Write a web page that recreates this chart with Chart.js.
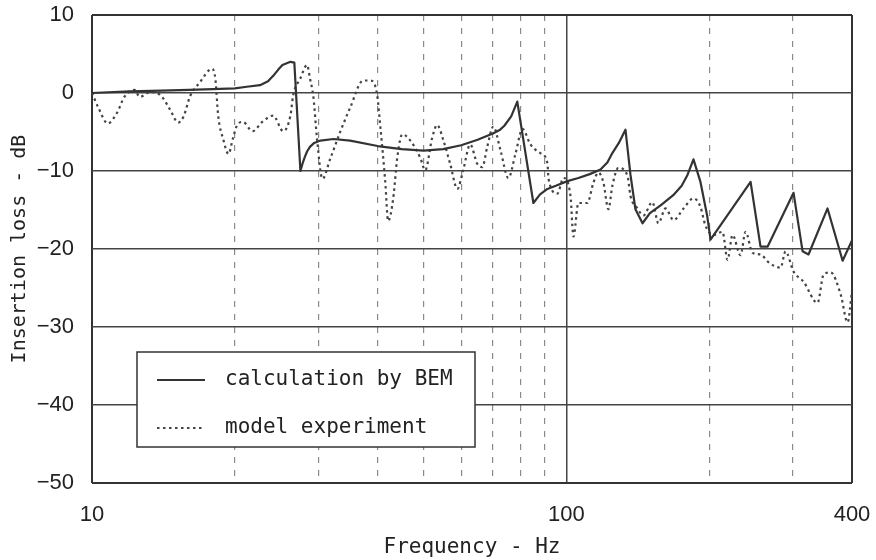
<!DOCTYPE html>
<html>
<head>
<meta charset="utf-8">
<script src="https://cdn.jsdelivr.net/npm/chart.js@4.4.0/dist/chart.umd.min.js"></script>
<style>
    html, body { margin: 0; padding: 0; background: #fff; }
    #wrap { width: 876px; height: 560px; }
</style>
</head>
<body>
<div id="wrap"><canvas id="lossChart" width="876" height="560"></canvas></div>
<script>
// Insertion loss vs frequency
// calculation by BEM
const bemFreq = [10, 12, 14, 16, 18, 20, 21.2, 22.6, 23.5, 24.1, 24.7, 25.2,
    26.2, 26.7, 27.5, 27.8, 28.1, 28.4, 28.8, 29.4, 30.3, 32.3, 35, 40,
    45, 50, 55, 60, 65, 70, 72.5, 74, 76.5, 78.8, 85.2, 88,
    91.2, 95, 100.5, 106, 112, 118, 122, 125, 129, 133.2, 136.5, 139.8,
    144.7, 150, 158, 168, 175, 180, 185.3, 191.7, 198, 201.3, 244.5, 256.6,
    265.5, 301.2, 314.7, 323.9, 355.2, 382.2, 400];
const bemLoss = [0, 0.2, 0.3, 0.4, 0.5, 0.6, 0.8, 1.0, 1.5, 2.2, 3.0, 3.6,
    4.0, 3.9, -10, -9, -8.2, -7.5, -6.9, -6.4, -6.1, -5.9, -6.1, -6.8,
    -7.2, -7.4, -7.2, -6.7, -6.0, -5.2, -4.7, -4.2, -3.0, -1.1, -14.1, -13,
    -12.3, -11.9, -11.3, -10.9, -10.4, -9.8, -8.9, -7.7, -6.4, -4.7, -10.5, -14.9,
    -16.7, -15.4, -14.4, -13.1, -11.9, -10.5, -8.5, -11.4, -15.7, -18.8, -11.4, -19.7,
    -19.7, -12.8, -20.3, -20.7, -14.8, -21.5, -18.9];

// model experiment
const expFreq = [10, 10.3, 10.8, 11.3, 11.7, 12.3, 12.6, 13.25, 13.9, 14.6,
    15.2, 15.6, 16.1, 16.9, 17.9, 18.2, 18.45, 18.9, 19.4, 19.8,
    20.2, 20.8, 21.8, 22.85, 24.1, 25.3, 26.2, 26.55, 27.5, 28.4,
    28.8, 29.3, 29.8, 30.6, 31.8, 33.4, 35, 37.3, 38.6, 39.9,
    40.5, 41.5, 42.1, 43.15, 44, 45.1, 46.9, 49.2, 50.4, 52.15,
    53.4, 55, 56.9, 58.9, 60.6, 62.7, 64.9, 66.5, 68.1, 70.15,
    72.6, 75.45, 78.1, 80.8, 84, 88.1, 91.2, 91.7, 95.7, 98.6,
    102, 103.5, 106, 110.7, 114, 116.8, 119.7, 122.6, 125, 128.7,
    134.5, 136.5, 141.2, 145.3, 151.8, 156.3, 161.8, 168.2, 176.6, 185.3,
    191.7, 196.4, 204.2, 213.4, 218.6, 224, 232.8, 238.6, 246.9, 256.6,
    266.8, 282.8, 289.7, 301.2, 316.2, 338.4, 348.4, 360.6, 378.5, 391.6, 400];
const expLoss = [0, -1.8, -3.9, -2.5, -0.5, 0.4, -0.5, 0.1, -0.2, -2.1,
    -3.8, -3, -0.4, 1.4, 3.1, 1.8, -2.9, -5.9, -7.8, -5.9,
    -4.2, -3.7, -4.9, -3.7, -2.9, -4.9, -2.9, -0.3, 1.9, 3.6,
    1.9, -0.6, -5.8, -11, -8.4, -4.9, -1.9, 1.6, 1.6, -0.2,
    -4.1, -11.3, -16.4, -13.5, -8.3, -5.3, -6.1, -8.3, -9.9, -5.7,
    -4.1, -6, -9.1, -12.3, -9.9, -6.6, -9.1, -9.5, -6.9, -4.3,
    -7.3, -10.9, -7.8, -4.6, -6.6, -7.7, -9, -11, -12.9, -10.9,
    -13.2, -18.4, -14.1, -14.1, -11.5, -10.2, -11.5, -14.9, -11.9, -9.6,
    -10.6, -13.2, -14.8, -15.7, -14, -16.7, -14.8, -16.3, -14.8, -13.5,
    -14.6, -17, -18.2, -17.8, -21.4, -18.2, -20.8, -17.8, -20.5, -20.7,
    -21.7, -22.4, -20.3, -22.9, -24.2, -26.9, -23.3, -23, -25.8, -29.4, -25.4];

// axis ticks
const xGridValues = [10, 20, 30, 40, 50, 60, 70, 80, 90, 100, 200, 300, 400];
const xTickLabels = [10, 100, 400];
const yMin = -50;
const yMax = 10;

const MONO = '"DejaVu Sans Mono", "Liberation Mono", monospace';
const SANS = '"Liberation Sans", Arial, sans-serif';

function toPoints(xs, ys) {
    return xs.map((x, i) => ({ x: x, y: ys[i] }));
}

// grid line look by tick value
function xGridStyle(value) {
    if (value === 10 || value === 400) return { color: '#333', width: 2, dash: [] };
    if (value === 100) return { color: '#444', width: 1.5, dash: [] };
    return { color: '#8a8a8a', width: 1.2, dash: [6, 7] };
}
function yGridStyle(value) {
    if (value === yMin || value === yMax) return { color: '#333', width: 2 };
    return { color: '#444', width: 1.5 };
}

// boxed legend drawn inside the plot, as in the original figure
const legendBox = {
    id: 'legendBox',
    afterDatasetsDraw(chart) {
        const { ctx, chartArea } = chart;
        const x = chartArea.left + 45;
        const y = chartArea.top + 337;
        const w = 338;
        const h = 95;
        ctx.save();
        ctx.fillStyle = '#fff';
        ctx.fillRect(x, y, w, h);
        ctx.strokeStyle = '#333';
        ctx.lineWidth = 1.5;
        ctx.strokeRect(x, y, w, h);
        chart.data.datasets.forEach((ds, i) => {
            const ly = y + 28 + i * 48;
            ctx.beginPath();
            ctx.setLineDash(ds.borderDash || []);
            ctx.lineWidth = ds.borderWidth;
            ctx.strokeStyle = ds.borderColor;
            ctx.moveTo(x + 20, ly);
            ctx.lineTo(x + 68, ly);
            ctx.stroke();
            ctx.setLineDash([]);
            ctx.fillStyle = '#222';
            ctx.font = '21px ' + MONO;
            ctx.textBaseline = 'middle';
            ctx.fillText(ds.label, x + 88, ly);
        });
        ctx.restore();
    }
};

new Chart(document.getElementById('lossChart'), {
    type: 'line',
    data: {
        datasets: [
            {
                label: 'calculation by BEM',
                data: toPoints(bemFreq, bemLoss),
                borderColor: '#333',
                borderWidth: 2.2,
                pointRadius: 0,
                tension: 0,
                borderJoinStyle: 'round',
                fill: false
            },
            {
                label: 'model experiment',
                data: toPoints(expFreq, expLoss),
                borderColor: '#444',
                borderWidth: 2.2,
                borderDash: [2.5, 3.5],
                pointRadius: 0,
                cubicInterpolationMode: 'monotone',
                fill: false
            }
        ]
    },
    options: {
        responsive: false,
        animation: false,
        devicePixelRatio: 1,
        layout: { padding: { left: 0, right: 24, top: 15, bottom: 0 } },
        plugins: {
            legend: { display: false },
            tooltip: { enabled: false }
        },
        scales: {
            x: {
                type: 'logarithmic',
                min: 10,
                max: 400,
                afterBuildTicks: (scale) => {
                    scale.ticks = xGridValues.map(v => ({ value: v }));
                },
                afterFit: (scale) => {
                    scale.height = 77;
                    scale.paddingLeft = 0;
                    scale.paddingRight = 0;
                },
                ticks: {
                    autoSkip: false,
                    maxRotation: 0,
                    padding: 19,
                    color: '#222',
                    font: { family: SANS, size: 22 },
                    callback: (value) => xTickLabels.includes(value) ? String(value) : ''
                },
                grid: {
                    drawTicks: false,
                    color: (ctx) => ctx.tick ? xGridStyle(ctx.tick.value).color : '#333',
                    lineWidth: (ctx) => ctx.tick ? xGridStyle(ctx.tick.value).width : 2
                },
                border: {
                    display: false,
                    dash: (ctx) => ctx.tick ? xGridStyle(ctx.tick.value).dash : []
                },
                title: {
                    display: true,
                    text: 'Frequency - Hz',
                    color: '#222',
                    font: { family: MONO, size: 21, lineHeight: 1.15 },
                    padding: { top: 0, bottom: 0 }
                }
            },
            y: {
                min: yMin,
                max: yMax,
                afterFit: (scale) => {
                    scale.width = 92;
                    scale.paddingTop = 0;
                    scale.paddingBottom = 0;
                },
                ticks: {
                    stepSize: 10,
                    padding: 18,
                    color: '#222',
                    font: { family: SANS, size: 22 },
                    callback: (value) => value < 0 ? '\u2212' + Math.abs(value) : String(value)
                },
                grid: {
                    drawTicks: false,
                    color: (ctx) => ctx.tick ? yGridStyle(ctx.tick.value).color : '#333',
                    lineWidth: (ctx) => ctx.tick ? yGridStyle(ctx.tick.value).width : 2
                },
                border: { display: false },
                title: {
                    display: true,
                    text: 'Insertion loss - dB',
                    color: '#222',
                    font: { family: MONO, size: 20, lineHeight: 1.2 },
                    padding: { top: 8, bottom: 0 }
                }
            }
        }
    },
    plugins: [legendBox]
});
</script>
</body>
</html>
